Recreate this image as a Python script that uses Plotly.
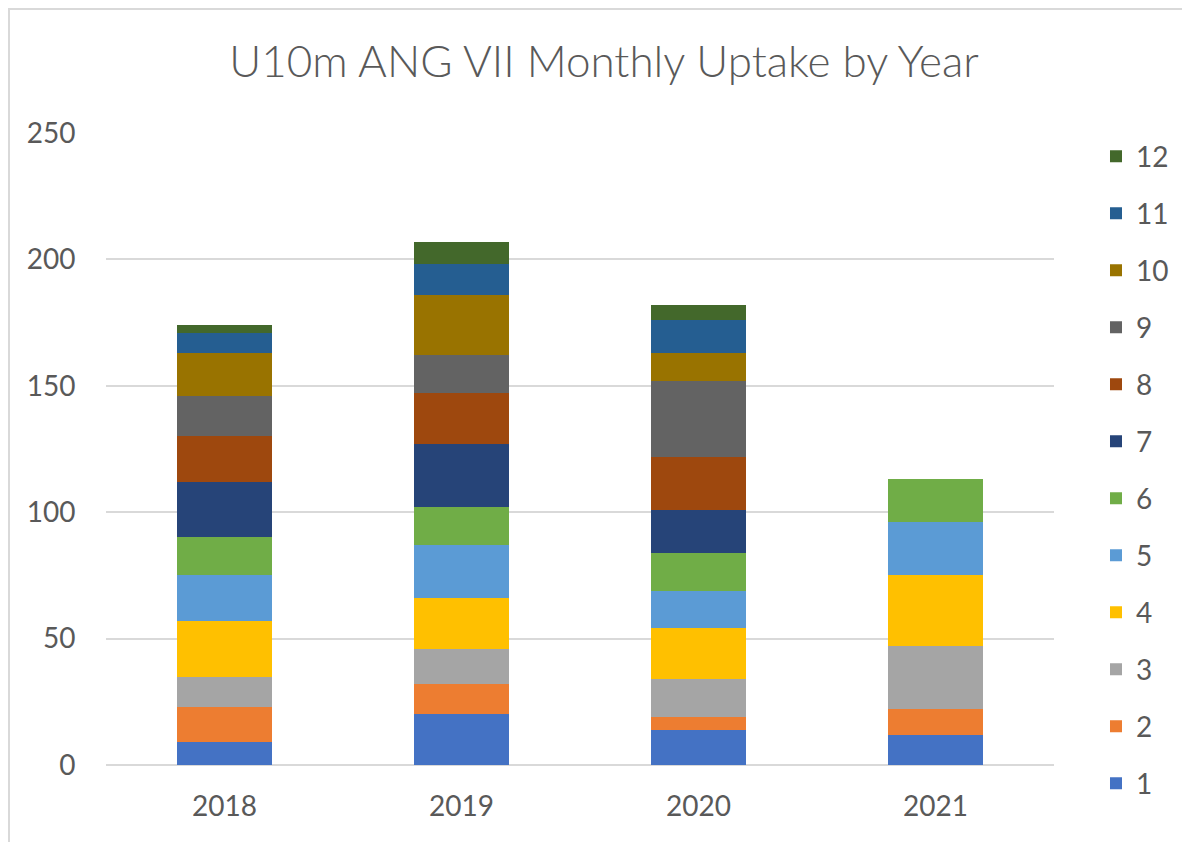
import plotly.graph_objects as go

years = ["2018", "2019", "2020", "2021"]
months = ["1", "2", "3", "4", "5", "6", "7", "8", "9", "10", "11", "12"]

m1 = [9, 20, 14, 12]
m2 = [14, 12, 5, 10]
m3 = [12, 14, 15, 25]
m4 = [22, 20, 20, 28]
m5 = [18, 21, 15, 21]
m6 = [15, 15, 15, 17]
m7 = [22, 25, 17, None]
m8 = [18, 20, 21, None]
m9 = [16, 15, 30, None]
m10 = [17, 24, 11, None]
m11 = [8, 12, 13, None]
m12 = [3, 9, 6, None]

series = [m1, m2, m3, m4, m5, m6, m7, m8, m9, m10, m11, m12]
colors = ["#4472C4", "#ED7D31", "#A5A5A5", "#FFC000", "#5B9BD5", "#70AD47",
          "#264478", "#9E480E", "#636363", "#997300", "#255E91", "#43682B"]

y_ticks = [0, 50, 100, 150, 200, 250]

FONT = "Lato"
TXT = "#595959"

# page body has an 8px margin; layout below compensates for it
L, T, PW, PH = 98, 125, 948, 632

fig = go.Figure()
n = len(months)
for i, (name, vals, col) in enumerate(zip(months, series, colors)):
    fig.add_trace(go.Bar(
        x=years, y=vals, name=name, legendgroup=name, legendrank=n - i,
        marker=dict(color=col, line=dict(width=0)),
    ))

fig.update_layout(
    width=1190, height=842,
    barmode="stack", bargap=0.6,
    paper_bgcolor="white", plot_bgcolor="white",
    margin=dict(l=L, r=1190 - L - PW, t=T, b=842 - T - PH),
    font=dict(family=FONT, color=TXT, size=28),
    title=dict(text="U10m ANG VII Monthly Uptake by Year", x=596 / 1190,
               xanchor="center", y=0.936, yanchor="middle",
               font=dict(family=FONT, size=44, color=TXT, weight=300)),
    showlegend=True,
    legend=dict(x=1.0443, xanchor="left", y=1.0024, yanchor="top",
                traceorder="grouped", tracegroupgap=17.6, maxheight=800,
                font=dict(family=FONT, size=28, color=TXT),
                bgcolor="rgba(0,0,0,0)"),
    xaxis=dict(showgrid=False, showline=False, zeroline=False, automargin=False,
               ticks="outside", ticklen=16, tickcolor="rgba(0,0,0,0)",
               tickfont=dict(family=FONT, size=28, color=TXT)),
    yaxis=dict(range=[0, 250], tickvals=y_ticks, showgrid=True, automargin=False,
               gridcolor="#D9D9D9", gridwidth=1.5,
               zeroline=True, zerolinecolor="#D9D9D9", zerolinewidth=1.5,
               showline=False,
               ticks="outside", ticklen=24, tickcolor="rgba(0,0,0,0)",
               tickfont=dict(family=FONT, size=28, color=TXT)),
    shapes=[dict(type="rect", xref="paper", yref="paper",
                 x0=(1 - L) / PW, x1=(1300 - L) / PW,
                 y0=(T + PH - 900) / PH, y1=(T + PH - 1) / PH,
                 line=dict(color="#D9D9D9", width=2), fillcolor="rgba(0,0,0,0)",
                 layer="below")],
)

fig.write_html("out.html")
